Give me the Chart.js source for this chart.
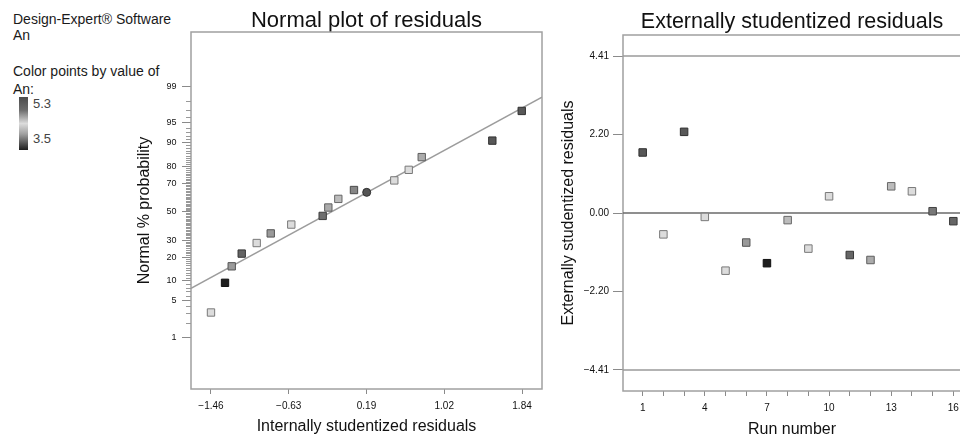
<!DOCTYPE html>
<html lang="en">
<head>
<meta charset="UTF-8">
<title>Residual plots</title>
<script src="https://cdn.jsdelivr.net/npm/chart.js"></script>
<style>
  html, body { margin: 0; padding: 0; background: #fff; }
  body { width: 960px; height: 435px; overflow: hidden; position: relative;
         font-family: Arial, "Liberation Sans", sans-serif; color: #1a1a1a; }
  .note { position: absolute; left: 13px; font-size: 14px; line-height: 14px; white-space: nowrap; }
  .scale-label { position: absolute; left: 33px; font-size: 13px; line-height: 13px; color: #444; }
  #bar { position: absolute; left: 19px; top: 97px; width: 9px; height: 53px; }
  canvas { position: absolute; top: 0; }
</style>
</head>
<body>
<div class="note" style="top:12px">Design-Expert® Software</div>
<div class="note" style="top:27.5px">An</div>
<div class="note" style="top:64px">Color points by value of</div>
<div class="note" style="top:82px">An:</div>
<div id="bar"></div>
<div class="scale-label" id="anHigh" style="top:97px"></div>
<div class="scale-label" id="anLow" style="top:132px"></div>
<canvas id="normal" width="420" height="435" style="left:130px"></canvas>
<canvas id="runs" width="420" height="435" style="left:550px"></canvas>
<script>
// colour scale of An
const anRange = [3.5, 5.3];

// normal plot: sorted internally studentized residuals, % probability, An
const normResid = [-1.46, -1.311, -1.240, -1.134, -0.975, -0.826, -0.608, -0.275,
                   -0.215, -0.109, 0.057, 0.485, 0.638, 0.776, 1.525, 1.837];
const normProb = [3.1, 9.4, 15.6, 21.9, 28.1, 34.4, 40.6, 46.9,
                  53.1, 59.4, 65.6, 71.9, 78.1, 84.4, 90.6, 96.9];
const normAn = [4.4, 3.5, 4.67, 5.0, 4.4, 4.67, 4.4, 4.85,
                4.6, 4.53, 4.75, 4.4, 4.4, 4.6, 5.14, 5.14];
// the round marker
const circleResid = [0.192];
const circleProb = [64.0];
const circleAn = [5.2];
// fitted line ends
const fitResid = [-1.672, 2.052];
const fitProb = [7.8, 98.3];

const normXTicks = [-1.46, -0.635, 0.19, 1.015, 1.84];
const normXLabels = ['\u22121.46', '\u22120.63', '0.19', '1.02', '1.84'];
const probTicks = [1, 5, 10, 20, 30, 50, 70, 80, 90, 95, 99];

// run plot: externally studentized residuals by run
const runs = [1, 2, 3, 4, 5, 6, 7, 8, 9, 10, 11, 12, 13, 14, 15, 16];
const extResid = [1.70, -0.60, 2.28, -0.11, -1.62, -0.83, -1.41, -0.20,
                  -1.00, 0.47, -1.18, -1.32, 0.75, 0.61, 0.05, -0.23];
const runAn = [5.14, 4.4, 5.14, 4.4, 4.4, 4.67, 3.5, 4.53,
               4.4, 4.4, 4.96, 4.6, 4.53, 4.4, 4.81, 4.96];
const runLabelTicks = [1, 4, 7, 10, 13, 16];
const limitLines = [4.41, 0, -4.41];
const extTicks = [4.41, 2.205, 0, -2.205, -4.41];
const extLabels = ['4.41', '2.20', '0.00', '\u22122.20', '\u22124.41'];

// grey version of the colour ramp (low -> high)
const shadeStops = [[0, 30], [0.3, 160], [0.5, 220], [0.75, 110], [1, 76]];
function greyFor(an) {
  let t = (an - anRange[0]) / (anRange[1] - anRange[0]);
  t = Math.max(0, Math.min(1, t));
  for (let i = 1; i < shadeStops.length; i++) {
    const [t0, g0] = shadeStops[i - 1], [t1, g1] = shadeStops[i];
    if (t <= t1) return g0 + (g1 - g0) * (t - t0) / (t1 - t0);
  }
  return shadeStops[shadeStops.length - 1][1];
}
const fillFor = an => { const g = Math.round(greyFor(an)); return `rgb(${g},${g},${g})`; };
const edgeFor = an => { const g = Math.round(greyFor(an) * 0.55); return `rgb(${g},${g},${g})`; };

document.getElementById('bar').style.background = 'linear-gradient(to top, ' +
  shadeStops.map(([t, g]) => `rgb(${g},${g},${g}) ${t * 100}%`).join(', ') + ')';
document.getElementById('anHigh').textContent = anRange[1].toFixed(1);
document.getElementById('anLow').textContent = anRange[0].toFixed(1);

// inverse normal cdf (Acklam)
function probit(p) {
  const a = [-39.69683028665376, 220.9460984245205, -275.9285104469687, 138.3577518672690, -30.66479806614716, 2.506628277459239];
  const b = [-54.47609879822406, 161.5858368580409, -155.6989798598866, 66.80131188771972, -13.28068155288572];
  const c = [-0.007784894002430293, -0.3223964580411365, -2.400758277161838, -2.549732539343734, 4.374664141464968, 2.938163982698783];
  const d = [0.007784695709041462, 0.3224671290700398, 2.445134137142996, 3.754408661907416];
  const tail = q => (((((c[0]*q+c[1])*q+c[2])*q+c[3])*q+c[4])*q+c[5]) / ((((d[0]*q+d[1])*q+d[2])*q+d[3])*q+1);
  if (p < 0.02425) return tail(Math.sqrt(-2 * Math.log(p)));
  if (p > 0.97575) return -tail(Math.sqrt(-2 * Math.log(1 - p)));
  const q = p - 0.5, r = q * q;
  return (((((a[0]*r+a[1])*r+a[2])*r+a[3])*r+a[4])*r+a[5])*q / (((((b[0]*r+b[1])*r+b[2])*r+b[3])*r+b[4])*r+1);
}
const z = pct => probit(pct / 100);

// unlabeled percent ticks on the probability axis
const minorProb = [];
for (let p = 1; p <= 99; p++) if (probTicks.indexOf(p) < 0) minorProb.push(p);

Chart.defaults.font.family = 'Arial, "Liberation Sans", sans-serif';
Chart.defaults.color = '#111';

// box round the plot area, plus the short probability ticks when asked
const framePlugin = {
  id: 'frame',
  beforeDatasetsDraw(chart, args, opts) {
    const ctx = chart.ctx, a = chart.chartArea;
    ctx.save();
    ctx.strokeStyle = opts.color;
    ctx.lineWidth = opts.width;
    ctx.strokeRect(a.left, a.top, a.right - a.left, a.bottom - a.top);
    if (opts.minor) {
      const s = chart.scales.y;
      ctx.strokeStyle = '#999';
      ctx.lineWidth = 1;
      ctx.beginPath();
      for (const p of minorProb) {
        const py = Math.round(s.getPixelForValue(z(p))) + 0.5;
        ctx.moveTo(a.left - 5, py);
        ctx.lineTo(a.left, py);
      }
      ctx.stroke();
    }
    ctx.restore();
  }
};

const tickFont = { size: 10 };
const axisTitleFont = { size: 16, lineHeight: 1 };
const tickGrey = '#8a8a8a';

// ---- normal probability plot
new Chart(document.getElementById('normal'), {
  type: 'scatter',
  data: {
    datasets: [
      {
        data: normResid.map((x, i) => ({ x, y: z(normProb[i]) })),
        pointStyle: 'rect', pointRadius: 5.2, borderWidth: 1,
        backgroundColor: c => fillFor(normAn[c.dataIndex]),
        borderColor: c => edgeFor(normAn[c.dataIndex]),
        order: 0
      },
      {
        data: circleResid.map((x, i) => ({ x, y: z(circleProb[i]) })),
        pointStyle: 'circle', pointRadius: 4, borderWidth: 1,
        backgroundColor: c => fillFor(circleAn[c.dataIndex]),
        borderColor: c => edgeFor(circleAn[c.dataIndex]),
        order: 0
      },
      {
        data: fitResid.map((x, i) => ({ x, y: z(fitProb[i]) })),
        showLine: true, pointRadius: 0, borderColor: '#9c9c9c', borderWidth: 1.5,
        order: 1
      }
    ]
  },
  options: {
    responsive: false, animation: false, events: [], devicePixelRatio: 1,
    layout: { padding: { left: 0, right: 8, top: 0, bottom: 0 } },
    plugins: {
      legend: { display: false },
      tooltip: { enabled: false },
      title: {
        display: true, text: 'Normal plot of residuals', color: '#111', fullSize: false,
        font: { size: 22, weight: 'normal', lineHeight: 1 }, padding: { top: 9.7, bottom: 0.3 }
      },
      frame: { color: '#a0a0a0', width: 1.5, minor: true }
    },
    scales: {
      x: {
        type: 'linear', min: -1.672, max: 2.052,
        afterBuildTicks: s => { s.ticks = normXTicks.map(v => ({ value: v })); },
        afterFit: s => { s.height = 46; },
        ticks: { callback: (v, i) => normXLabels[i], font: tickFont, padding: 6, autoSkip: false, maxRotation: 0 },
        grid: { drawOnChartArea: false, tickLength: 5, color: tickGrey },
        border: { display: false },
        title: { display: true, text: 'Internally studentized residuals', font: axisTitleFont, color: '#111', padding: { top: 0, bottom: 0 } }
      },
      y: {
        type: 'linear', position: 'left', min: -3.283, max: 3.328,
        afterBuildTicks: s => { s.ticks = probTicks.map(p => ({ value: z(p) })); },
        afterFit: s => { s.width = 61; },
        ticks: { callback: (v, i) => String(probTicks[i]), font: { size: 9 }, padding: 5.5, autoSkip: false },
        grid: { drawOnChartArea: false, tickLength: 9, color: tickGrey },
        border: { display: false },
        title: { display: true, text: 'Normal % probability', font: axisTitleFont, color: '#111', padding: { top: 6.5, bottom: 0 } }
      }
    }
  },
  plugins: [framePlugin]
});

// ---- residuals vs run
const runMin = 0.05, runMax = 16.37;

new Chart(document.getElementById('runs'), {
  type: 'scatter',
  data: {
    datasets: [
      {
        data: runs.map((r, i) => ({ x: r, y: extResid[i] })),
        pointStyle: 'rect', pointRadius: 5.3, borderWidth: 1,
        backgroundColor: c => fillFor(runAn[c.dataIndex]),
        borderColor: c => edgeFor(runAn[c.dataIndex]),
        order: 0
      },
      ...limitLines.map(v => ({
        data: [{ x: runMin, y: v }, { x: runMax, y: v }],
        showLine: true, pointRadius: 0, borderWidth: 1.5,
        borderColor: v === 0 ? '#6a6a6a' : '#9a9a9a',
        order: 1
      }))
    ]
  },
  options: {
    responsive: false, animation: false, events: [], devicePixelRatio: 1,
    layout: { padding: { left: 0, right: 9, top: 0, bottom: 0 } },
    plugins: {
      legend: { display: false },
      tooltip: { enabled: false },
      title: {
        display: true, text: 'Externally studentized residuals', color: '#111', fullSize: false,
        font: { size: 21.5, weight: 'normal', lineHeight: 1 }, padding: { top: 11.75, bottom: 1.75 }
      },
      frame: { color: '#a0a0a0', width: 1.5, minor: false }
    },
    scales: {
      x: {
        type: 'linear', min: runMin, max: runMax,
        afterBuildTicks: s => { s.ticks = runs.map(v => ({ value: v })); },
        afterFit: s => { s.height = 44; },
        ticks: { callback: v => runLabelTicks.includes(v) ? String(v) : '', font: tickFont, padding: 6.5, autoSkip: false, maxRotation: 0 },
        grid: { drawOnChartArea: false, tickLength: 5, color: tickGrey },
        border: { display: false },
        title: { display: true, text: 'Run number', font: axisTitleFont, color: '#111', padding: { top: 0, bottom: -2.5 } }
      },
      y: {
        type: 'linear', position: 'left', min: -5, max: 5,
        afterBuildTicks: s => { s.ticks = extTicks.map(v => ({ value: v })); },
        afterFit: s => { s.width = 73; },
        ticks: { callback: (v, i) => extLabels[i], font: tickFont, padding: 4, autoSkip: false },
        grid: { drawOnChartArea: false, tickLength: 10, color: tickGrey },
        border: { display: false },
        title: { display: true, text: 'Externally studentized residuals', font: axisTitleFont, color: '#111', padding: { top: 11, bottom: 0 } }
      }
    }
  },
  plugins: [framePlugin]
});
</script>
</body>
</html>
